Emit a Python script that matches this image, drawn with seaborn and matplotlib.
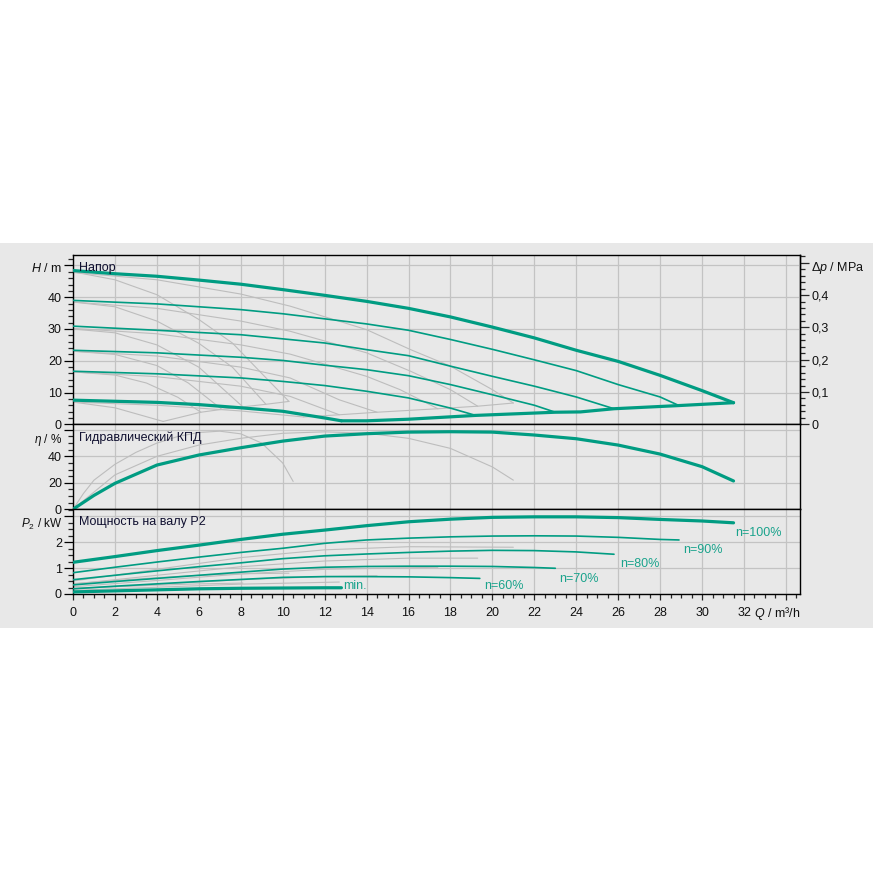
#%%
import matplotlib
matplotlib.use('Agg')
import matplotlib.pyplot as plt
import seaborn as sns
from matplotlib.patches import Rectangle
from matplotlib.ticker import MultipleLocator, FuncFormatter

sns.set_style('white')
plt.rcParams['font.family'] = ['Liberation Sans', 'DejaVu Sans']
plt.rcParams['mathtext.fontset'] = 'custom'
plt.rcParams['mathtext.rm'] = 'Liberation Sans'
plt.rcParams['mathtext.it'] = 'Liberation Sans:italic'

teal = '#009c82'
grey = '#bdbdbd'
bg = '#e8e8e8'
ink = '#111111'

#%%
# Head curves (teal) - Q in m3/h, H in m
q_h100 = [0, 2, 4, 6, 8, 10, 12, 14, 16, 18, 20, 22, 24, 26, 28, 30, 31.5]
h_100 = [48.4, 47.4, 46.6, 45.4, 44.1, 42.4, 40.6, 38.7, 36.5, 33.8, 30.6, 27.2, 23.3, 19.8, 15.4, 10.6, 6.8]
q_h90 = [0, 4, 8, 10, 12, 14, 16, 18, 20, 22, 24, 26, 28, 28.9]
h_90 = [39.0, 37.9, 36.1, 34.8, 33.2, 31.6, 29.6, 26.7, 23.6, 20.3, 16.9, 12.5, 8.6, 5.9]
q_h80 = [0, 4, 8, 10, 12, 14, 16, 18, 20, 22, 24, 25.8]
h_80 = [30.9, 29.6, 28.2, 26.9, 25.6, 23.5, 21.6, 18.3, 15.1, 12.0, 8.6, 4.9]
q_h70 = [0, 4, 8, 10, 12, 14, 16, 18, 20, 22, 23]
h_70 = [23.3, 22.5, 21.1, 20.1, 18.6, 17.2, 15.3, 12.5, 9.3, 6.0, 3.8]
q_h60 = [0, 4, 8, 10, 12, 14, 16, 18, 19.2]
h_60 = [16.7, 15.9, 14.6, 13.5, 12.2, 10.4, 8.3, 5.1, 2.8]
q_hmin = [0, 4, 6, 8, 10, 12, 12.8]
h_min = [7.6, 6.9, 6.2, 5.2, 4.1, 2.0, 1.1]
q_hlim = [12.8, 14, 16, 19.2, 23, 24.2, 25.8, 28.9, 31.5]
h_lim = [1.1, 1.1, 1.6, 2.8, 3.8, 3.9, 4.9, 5.9, 6.8]

# Grey head curves of the neighbouring pumps
qa_100 = [0, 2, 4, 6, 7.6, 9, 10.3]
ha_100 = [48, 45.5, 40.8, 33, 25.6, 16, 7.2]
qa_90 = [0, 2, 4, 6, 7.6, 9.2]
ha_90 = [38.5, 37, 32.5, 25.5, 18, 6.3]
qa_80 = [0, 2, 4, 6, 8.1]
ha_80 = [30, 28.8, 25, 18, 5.5]
qa_70 = [0, 2, 4, 5.5, 7.1]
ha_70 = [23, 22, 18.5, 13, 4.7]
qa_60 = [0, 2, 3.5, 5, 6.1]
ha_60 = [16.5, 15.5, 13, 8.5, 3.8]
qa_min = [0, 2, 4.3]
ha_min = [7, 5.2, 0.9]
qa_lim = [4.3, 6.1, 7.1, 8.1, 9.2, 10.3]
ha_lim = [0.9, 3.8, 4.7, 5.5, 6.3, 7.2]

qb_100 = [0, 4, 8, 10.35, 14, 16.1, 18, 20, 21]
hb_100 = [47.8, 45.5, 41, 37.2, 29.8, 23.5, 18.3, 10.9, 6.7]
qb_90 = [0, 4, 8, 10.35, 14, 16.1, 18, 19.3]
hb_90 = [38.5, 36.5, 32.5, 29.3, 22.5, 16.7, 10.9, 5.7]
qb_80 = [0, 4, 8, 10.35, 14, 15.6, 17.4]
hb_80 = [30.2, 28.5, 25, 22.1, 15.1, 10.9, 4.9]
qb_70 = [0, 4, 8, 10.35, 12.7, 14.5]
hb_70 = [23, 21.5, 18, 14.6, 7.7, 3.8]
qb_60 = [0, 4, 8, 10.35, 12.7]
hb_60 = [16.5, 15, 12, 8.8, 3.0]
qb_min = [0, 4, 8, 11]
hb_min = [7, 6, 4.2, 2.3]
qb_lim = [11, 12.7, 14.5, 17.4, 19.3, 21]
hb_lim = [2.3, 3.0, 3.8, 4.9, 5.7, 6.7]

# Hydraulic efficiency in %
q_eta = [0, 1, 2, 4, 6, 8, 10, 12, 14, 16, 18, 20, 22, 24, 26, 28, 30, 31.5]
eta = [0, 10.5, 19.6, 33.4, 41, 46.5, 51.5, 55.3, 57.1, 58.3, 58.6, 58.3, 56.1, 53.3, 48.5, 41.7, 32.2, 21.4]
qa_eta = [0, 0.5, 1, 2, 3, 4, 5, 6, 7, 8, 9, 10, 10.5]
eta_a = [0, 12, 22, 34, 43, 50, 55, 58, 59, 57, 50, 35, 21]
qb_eta = [0, 2, 4, 6, 8, 10, 12, 14, 16, 18, 20, 21]
eta_b = [0, 26, 40, 48.5, 53.6, 57.4, 58.5, 57.5, 53.6, 46, 32, 22]

# Shaft power P2 in kW
q_p100 = [0, 2, 4, 6, 8, 10, 12, 14, 16, 18, 20, 22, 24, 26, 28, 30, 31.5]
p_100 = [1.22, 1.44, 1.67, 1.88, 2.10, 2.30, 2.46, 2.63, 2.78, 2.88, 2.95, 2.97, 2.97, 2.94, 2.87, 2.81, 2.74]
q_p90 = [0, 2, 4, 6, 8, 10, 12, 14, 16, 18, 20, 22, 24, 26, 28, 28.9]
p_90 = [0.82, 1.03, 1.23, 1.42, 1.60, 1.76, 1.95, 2.08, 2.15, 2.20, 2.23, 2.24, 2.23, 2.18, 2.10, 2.08]
q_p80 = [0, 2, 4, 6, 8, 10, 12, 14, 16, 18, 20, 22, 24, 25.8]
p_80 = [0.55, 0.72, 0.89, 1.05, 1.20, 1.36, 1.47, 1.54, 1.60, 1.65, 1.68, 1.67, 1.62, 1.53]
q_p70 = [0, 2, 4, 6, 8, 10, 12, 14, 16, 18, 20, 22, 23]
p_70 = [0.35, 0.48, 0.60, 0.72, 0.84, 0.96, 1.03, 1.06, 1.07, 1.07, 1.06, 1.02, 0.99]
q_p60 = [0, 2, 4, 6, 8, 10, 12, 14, 16, 18, 19.4]
p_60 = [0.20, 0.30, 0.39, 0.48, 0.56, 0.64, 0.67, 0.67, 0.66, 0.63, 0.60]
q_pmin = [0, 2, 4, 6, 8, 10, 12, 12.8]
p_min = [0.08, 0.12, 0.16, 0.20, 0.22, 0.23, 0.24, 0.24]

qb_p100 = [0, 4, 8, 12, 16, 21]
pb_100 = [0.5, 0.95, 1.4, 1.7, 1.82, 1.8]
qb_p90 = [0, 4, 8, 12, 16, 19.3]
pb_90 = [0.38, 0.72, 1.05, 1.27, 1.38, 1.38]
qb_p80 = [0, 4, 8, 12, 17.4]
pb_80 = [0.28, 0.52, 0.77, 0.95, 1.03]
qb_p70 = [0, 4, 8, 12, 14.5]
pb_70 = [0.2, 0.37, 0.55, 0.67, 0.7]
qb_p60 = [0, 4, 8, 12.7]
pb_60 = [0.14, 0.26, 0.38, 0.46]
qa_p100 = [0, 2, 4, 6, 8, 10.3]
pa_100 = [0.4, 0.52, 0.63, 0.72, 0.78, 0.8]
qa_p80 = [0, 2, 4, 6, 8.1]
pa_80 = [0.22, 0.28, 0.34, 0.39, 0.42]
qa_p60 = [0, 2, 4, 6.1]
pa_60 = [0.1, 0.13, 0.16, 0.18]

speed_labels = ['n=100%', 'n=90%', 'n=80%', 'n=70%', 'n=60%', 'min.']

#%%
fig = plt.figure(figsize=(8.73, 8.73), dpi=100)
fig.patch.set_facecolor('white')
fig.add_artist(Rectangle((0, 1 - 628 / 873), 1, 385 / 873, transform=fig.transFigure,
                         facecolor=bg, edgecolor='none', zorder=-10))

L, W = 73 / 873, 727 / 873
ax_h = fig.add_axes([L, 1 - 424.3 / 873, W, 169 / 873])
ax_e = fig.add_axes([L, 1 - 509.3 / 873, W, 85 / 873])
ax_p = fig.add_axes([L, 1 - 594 / 873, W, 84.7 / 873])


def curve(ax, q, y, c=teal, lw=1.2, z=3):
    sns.lineplot(x=q, y=y, ax=ax, color=c, linewidth=lw, estimator=None, sort=False, zorder=z)


# grey curves first
for q, h in [(qa_100, ha_100), (qa_90, ha_90), (qa_80, ha_80), (qa_70, ha_70), (qa_60, ha_60),
             (qa_min, ha_min), (qa_lim, ha_lim), (qb_100, hb_100), (qb_90, hb_90), (qb_80, hb_80),
             (qb_70, hb_70), (qb_60, hb_60), (qb_min, hb_min), (qb_lim, hb_lim)]:
    curve(ax_h, q, h, c=grey, lw=0.8, z=2)
for q, h in [(q_h90, h_90), (q_h80, h_80), (q_h70, h_70), (q_h60, h_60)]:
    curve(ax_h, q, h, lw=1.2)
for q, h in [(q_h100, h_100), (q_hmin, h_min), (q_hlim, h_lim)]:
    curve(ax_h, q, h, lw=2.3)

curve(ax_e, qa_eta, eta_a, c=grey, lw=0.8, z=2)
curve(ax_e, qb_eta, eta_b, c=grey, lw=0.8, z=2)
curve(ax_e, q_eta, eta, lw=2.3)

for q, p in [(qb_p100, pb_100), (qb_p90, pb_90), (qb_p80, pb_80), (qb_p70, pb_70), (qb_p60, pb_60),
             (qa_p100, pa_100), (qa_p80, pa_80), (qa_p60, pa_60)]:
    curve(ax_p, q, p, c=grey, lw=0.8, z=2)
for q, p in [(q_p90, p_90), (q_p80, p_80), (q_p70, p_70), (q_p60, p_60)]:
    curve(ax_p, q, p, lw=1.2)
for q, p in [(q_p100, p_100), (q_pmin, p_min)]:
    curve(ax_p, q, p, lw=2.3)

# speed labels next to the power curves
label_pos = [(31.6, 2.33), (29.1, 1.69), (26.1, 1.14), (23.2, 0.58), (19.6, 0.31), (12.9, 0.29)]
for lab, (x, y) in zip(speed_labels, label_pos):
    ax_p.text(x, y, lab, color='#1aa38c', fontsize=9, ha='left', va='center')

#%%
# axes styling
ylims = [(ax_h, 53.2, 10, 2, 50), (ax_e, 64.2, 20, 5, 60), (ax_p, 3.26, 1, 0.25, 3)]
for ax, top, maj, mnr, hide in ylims:
    ax.set_facecolor(bg)
    ax.set_xlim(0, 34.67)
    ax.set_ylim(0, top)
    ax.xaxis.set_major_locator(MultipleLocator(2))
    ax.xaxis.set_minor_locator(MultipleLocator(0.5))
    ax.yaxis.set_major_locator(MultipleLocator(maj))
    ax.yaxis.set_minor_locator(MultipleLocator(mnr))
    ax.yaxis.set_major_formatter(FuncFormatter(lambda v, p, h=hide: '' if v >= h - 1e-6 else f'{v:g}'))
    ax.grid(True, which='major', color='#c3c3c3', linewidth=0.9, zorder=0)
    ax.set_axisbelow(True)
    for s in ax.spines.values():
        s.set_color('black')
        s.set_linewidth(1.0)
    ax.tick_params(axis='y', which='major', direction='out', length=6.5, width=0.9, pad=1.5,
                   labelsize=9, colors='black', left=True, labelcolor=ink)
    ax.tick_params(axis='y', which='minor', direction='out', length=3.6, width=0.9, left=True)
    ax.tick_params(axis='x', which='both', bottom=False, labelbottom=False)
    ax.set_xlabel('')
    ax.set_ylabel('')

ax_p.tick_params(axis='x', which='major', bottom=True, labelbottom=True, direction='out',
                 length=4.5, width=0.9, pad=5, labelsize=9, labelcolor=ink)
ax_p.tick_params(axis='x', which='minor', bottom=True, direction='out', length=2.8, width=0.9)
ax_p.xaxis.set_major_formatter(FuncFormatter(lambda v, p: '' if v > 33 else f'{v:.0f}'))


# pressure axis on the right of the head panel
def m_to_mpa(h):
    return h * 0.009833


def mpa_to_m(p):
    return p / 0.009833


sec = ax_h.secondary_yaxis('right', functions=(m_to_mpa, mpa_to_m))
sec.yaxis.set_major_locator(MultipleLocator(0.1))
sec.yaxis.set_minor_locator(MultipleLocator(0.02))
sec.yaxis.set_major_formatter(FuncFormatter(
    lambda v, p: '' if v > 0.45 else ('0' if abs(v) < 1e-9 else f'{v:.1f}'.replace('.', ','))))
sec.tick_params(which='major', direction='out', length=6.5, width=0.9, pad=1.5, labelsize=9,
                labelcolor=ink)
sec.tick_params(which='minor', direction='out', length=3.6, width=0.9)
sec.spines['right'].set_linewidth(1.0)

# axis names and panel titles
ax_h.text(-0.0151, 0.923, '$H$ / m', transform=ax_h.transAxes, ha='right', va='center', fontsize=9, color=ink)
ax_h.text(1.0151, 0.923, '$\\mathit{\\Delta p}$ / MPa', transform=ax_h.transAxes, ha='left', va='center',
          fontsize=9, color=ink)
ax_e.text(-0.0151, 0.82, '$\\eta$ / %', transform=ax_e.transAxes, ha='right', va='center', fontsize=8.5, color=ink)
ax_p.text(-0.0151, 0.82, '$P_2$ / kW', transform=ax_p.transAxes, ha='right', va='center', fontsize=8.5, color=ink)
ax_p.text(1.0, -0.226, '$Q$ / m³/h', transform=ax_p.transAxes, ha='right', va='center', fontsize=9, color=ink)

ax_h.text(0.0083, 0.923, 'Напор', transform=ax_h.transAxes, ha='left', va='center', fontsize=9, color='#101030')
ax_e.text(0.0083, 0.847, 'Гидравлический КПД', transform=ax_e.transAxes, ha='left', va='center', fontsize=9,
          color='#101030')
ax_p.text(0.0083, 0.847, 'Мощность на валу P2', transform=ax_p.transAxes, ha='left', va='center', fontsize=9,
          color='#101030')

fig.savefig('out.png', dpi=100, facecolor='white')
